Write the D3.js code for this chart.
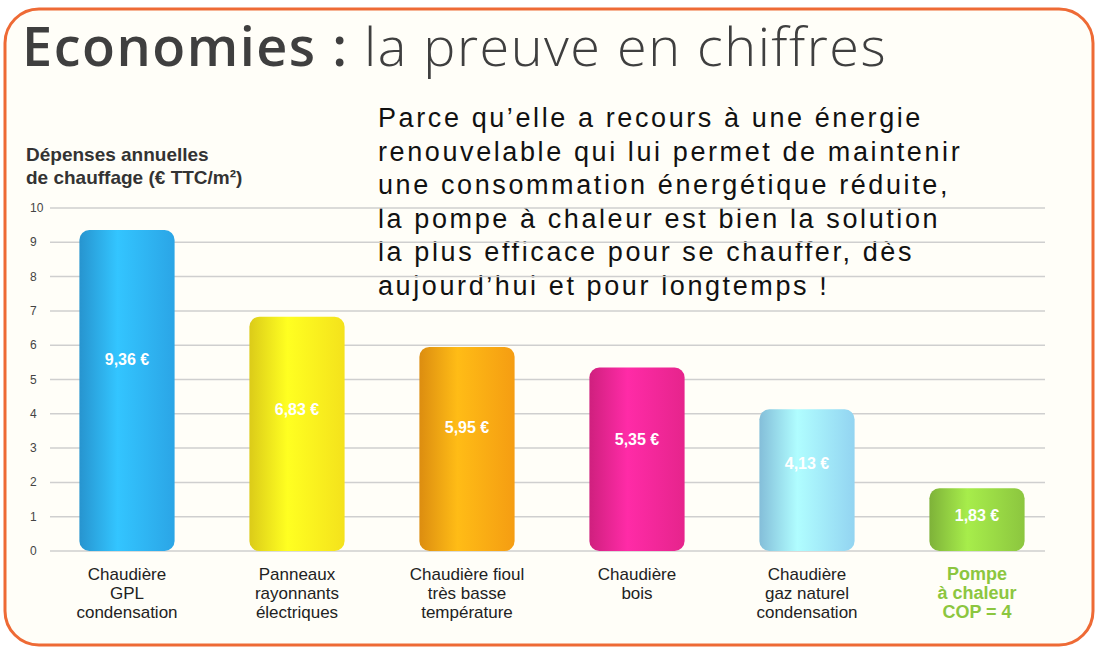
<!DOCTYPE html>
<html><head><meta charset="utf-8">
<script src="https://cdn.jsdelivr.net/npm/d3@7"></script>
<style>body{margin:0;background:#fff}svg{display:block;font-family:"Liberation Sans",Arial,sans-serif}</style>
</head><body><svg id="c" width="1104" height="653"></svg>
<script>
// donnees du graphique
let categories = [["Chaudière","GPL","condensation"],["Panneaux","rayonnants","électriques"],["Chaudière fioul","très basse","température"],["Chaudière","bois"],["Chaudière","gaz naturel","condensation"],["Pompe","à chaleur","COP = 4"]];
let valeurs = [9.36, 6.83, 5.95, 5.35, 4.13, 1.83];
let etiquettes = ["9,36 €","6,83 €","5,95 €","5,35 €","4,13 €","1,83 €"];
let couleurs = ["#2ba5e6","#f4e21c","#f59d12","#e6248c","#93d4f1","#8cc63f"];
let ticks = [0,1,2,3,4,5,6,7,8,9,10];
let texte = ["Parce qu’elle a recours à une énergie","renouvelable qui lui permet de maintenir","une consommation énergétique réduite,","la pompe à chaleur est bien la solution","la plus efficace pour se chauffer, dès","aujourd’hui et pour longtemps !"];

let svg = d3.select("#c");
svg.append("rect").attr("x",5).attr("y",9).attr("width",1088).attr("height",636)
    .attr("rx",34).attr("fill","#fffef8").attr("stroke","#ee6a35").attr("stroke-width",3);

let t = svg.append("text").attr("x",22).attr("y",66).attr("fill","#3f3f3f").attr("font-family","Open Sans, sans-serif").attr("letter-spacing",1.5);
t.append("tspan").attr("font-size",54).attr("font-weight","600").text("Economies :");
t.append("tspan").attr("font-size",54).attr("font-weight","300").text(" la preuve en chiffres");

svg.selectAll("text.para").data(texte).enter().append("text")
    .attr("x",378).attr("y",(d,i)=>127+i*33.5)
    .attr("font-size",27).attr("letter-spacing",2.6).attr("fill","#111").text(d=>d);

svg.append("text").attr("x",26).attr("y",161).attr("font-size",19).attr("font-weight","bold").attr("fill","#333").text("Dépenses annuelles");
svg.append("text").attr("x",26).attr("y",184).attr("font-size",19).attr("font-weight","bold").attr("fill","#333").text("de chauffage (€ TTC/m²)");

let y = d3.scaleLinear().domain([0,10]).range([551,208]);
let x = d3.scaleBand().domain(d3.range(6)).range([42,1062]).paddingInner(0.44).paddingOuter(0.22);

let g = svg.append("g");
g.selectAll("line").data(ticks).enter().append("line")
    .attr("x1",50).attr("x2",1045).attr("y1",d=>y(d)).attr("y2",d=>y(d))
    .attr("stroke","#cfcfcf").attr("stroke-width",1.5);
g.selectAll("text").data(ticks).enter().append("text")
    .attr("x",30).attr("y",d=>y(d)+4).attr("font-size",12).attr("fill","#444").text(d=>d);

let defs = svg.append("defs");
couleurs.forEach((c,i)=>{
  let gr = defs.append("linearGradient").attr("id","g"+i);
  gr.append("stop").attr("offset","0").attr("stop-color",d3.color(c).darker(0.3));
  gr.append("stop").attr("offset","0.4").attr("stop-color",d3.color(c).brighter(0.5));
  gr.append("stop").attr("offset","1").attr("stop-color",c);
});

svg.selectAll("rect.bar").data(valeurs).enter().append("rect")
    .attr("x",(d,i)=>x(i)).attr("width",x.bandwidth())
    .attr("y",d=>y(d)).attr("height",d=>y(0)-y(d))
    .attr("rx",10).attr("fill",(d,i)=>"url(#g"+i+")");

svg.selectAll("text.val").data(valeurs).enter().append("text")
    .attr("x",(d,i)=>x(i)+x.bandwidth()/2).attr("y",d=>y(d)+ (d>3 ? (y(0)-y(d))*0.42 : 33))
    .attr("text-anchor","middle").attr("font-size",16).attr("font-weight","bold").attr("fill","#fff")
    .text((d,i)=>etiquettes[i]);

categories.forEach((lines,i)=>{
  let last = i==5;
  lines.forEach((l,j)=>{
    svg.append("text").attr("x",x(i)+x.bandwidth()/2).attr("y",580+j*19)
      .attr("text-anchor","middle").attr("font-size",last?18:17)
      .attr("font-weight",last?"bold":"normal").attr("fill",last?"#8cc63f":"#222").text(l);
  });
});
</script></body></html>
